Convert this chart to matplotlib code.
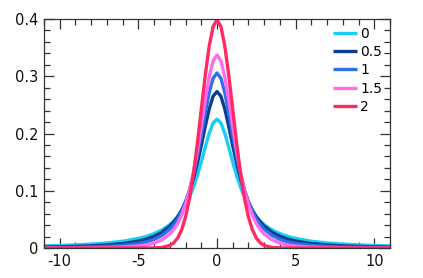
import matplotlib
matplotlib.use('Agg')

import numpy as np
from matplotlib import pyplot as plt
from matplotlib.ticker import MultipleLocator

# curves are symmetric about 0, values read for x >= 0
xs_half = [0, 0.25, 0.5, 0.75, 1, 1.25, 1.5, 1.75, 2, 2.25, 2.5, 2.75,
           3, 3.5, 4, 4.5, 5, 6, 7, 8, 9, 10, 11]

labels = ['0', '0.5', '1', '1.5', '2']

y_0 = [0.2251, 0.2183, 0.2001, 0.1757, 0.1501, 0.1264, 0.1059, 0.0889, 0.0750, 0.0637,
       0.0546, 0.0471, 0.0409, 0.0316, 0.0250, 0.0202, 0.0167, 0.0118, 0.0088, 0.0068,
       0.0054, 0.0044, 0.0037]
y_05 = [0.2733, 0.2650, 0.2425, 0.2118, 0.1787, 0.1478, 0.1209, 0.0986, 0.0805, 0.0661,
        0.0547, 0.0455, 0.0382, 0.0275, 0.0204, 0.0155, 0.0121, 0.0077, 0.0053, 0.0037,
        0.0028, 0.0021, 0.0016]
y_1 = [0.3057, 0.2964, 0.2709, 0.2355, 0.1969, 0.1602, 0.1282, 0.1017, 0.0805, 0.0638,
       0.0508, 0.0407, 0.0329, 0.0219, 0.0151, 0.0107, 0.0078, 0.0044, 0.0027, 0.0017,
       0.0012, 0.0008, 0.0006]
y_15 = [0.3370, 0.3267, 0.2983, 0.2580, 0.2132, 0.1700, 0.1321, 0.1008, 0.0761, 0.0572,
        0.0429, 0.0323, 0.0244, 0.0142, 0.0085, 0.0053, 0.0034, 0.0015, 0.0007, 0.0004,
        0.0002, 0.0001, 0.0001]
y_2 = [0.3989, 0.3867, 0.3521, 0.3011, 0.2420, 0.1826, 0.1295, 0.0863, 0.0540, 0.0317,
       0.0175, 0.0091, 0.0044, 0.0009, 0.0001, 0.0, 0.0, 0.0, 0.0, 0.0,
       0.0, 0.0, 0.0]

colors = ['#19cdf5', '#0a3f8c', '#2f6fe8', '#ff6bf0', '#ff2a62']


def mirror(xs, ys):
    xs = np.asarray(xs, dtype=float)
    ys = np.asarray(ys, dtype=float)
    return np.concatenate([-xs[:0:-1], xs]), np.concatenate([ys[:0:-1], ys])


def main(output='out.png'):
    plt.rcParams['axes.unicode_minus'] = False
    plt.rcParams['font.family'] = 'DejaVu Sans'

    fig = plt.figure(figsize=(4.23, 2.78), dpi=100)
    ax = fig.add_axes([44 / 423, 30 / 278, 346 / 423, 229 / 278])

    for ys, lab, col in zip([y_0, y_05, y_1, y_15, y_2], labels, colors):
        x, y = mirror(xs_half, ys)
        ax.plot(x, y, color=col, lw=2.4, label=lab, solid_capstyle='butt')

    ax.set_xlim(-11, 11)
    ax.set_ylim(0, 0.4)
    ax.xaxis.set_major_locator(MultipleLocator(5))
    ax.xaxis.set_minor_locator(MultipleLocator(1))
    ax.yaxis.set_major_locator(MultipleLocator(0.1))
    ax.yaxis.set_minor_locator(MultipleLocator(0.02))
    ax.set_yticks([0, 0.1, 0.2, 0.3, 0.4])
    ax.set_yticklabels(['0', '0.1', '0.2', '0.3', '0.4'])

    ax.tick_params(which='both', direction='in', top=True, right=True,
                   width=0.9, color='#333333', labelsize=10.5, labelcolor='#111111')
    ax.tick_params(which='major', length=7, pad=4)
    ax.tick_params(which='minor', length=4)
    for sp in ax.spines.values():
        sp.set_linewidth(0.9)
        sp.set_color('#333333')

    ax.legend(loc='upper left', frameon=False, fontsize=10, handlelength=1.75,
              handletextpad=0.2, labelspacing=0.3, borderpad=0, borderaxespad=0,
              bbox_to_anchor=(333 / 423, 1 - 27 / 278), bbox_transform=fig.transFigure)

    fig.savefig(output, dpi=100)


if __name__ == '__main__':
    main()
